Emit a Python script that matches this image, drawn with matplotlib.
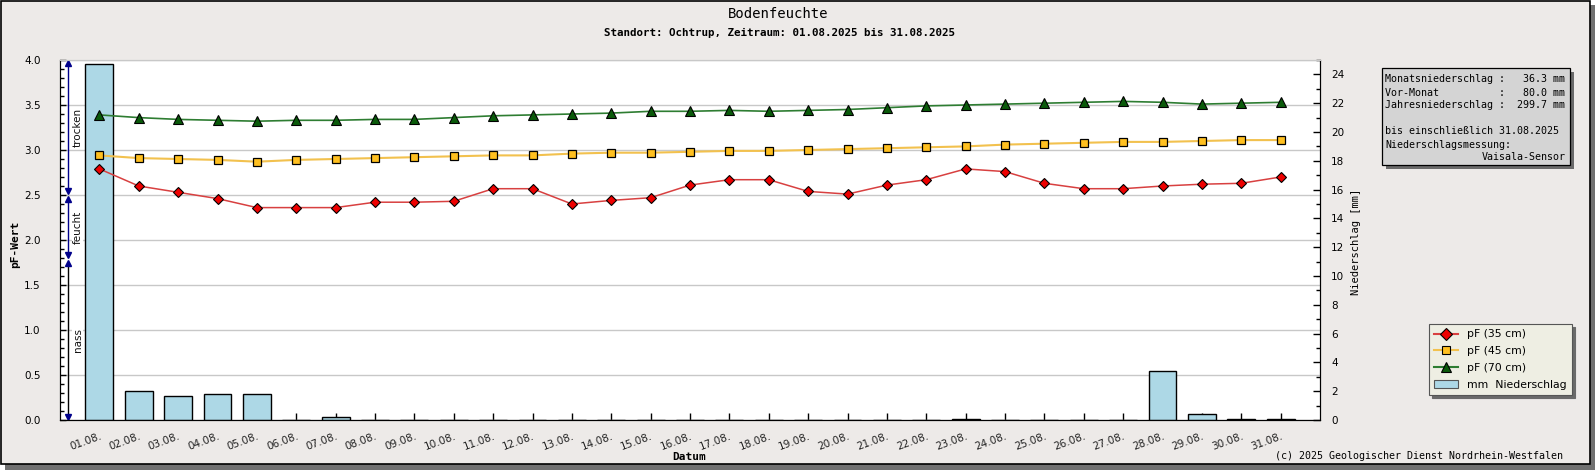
import numpy as np
import matplotlib
matplotlib.use("Agg")
import matplotlib.pyplot as plt
from matplotlib.patches import Rectangle
from matplotlib.ticker import MultipleLocator
from matplotlib.lines import Line2D

# Tage im August 2025
tage = list(range(1, 32))
tag_labels = ["%02d.08." % t for t in tage]

# pF-Werte je Tiefe
pf35 = [2.79, 2.60, 2.53, 2.46, 2.36, 2.36, 2.36, 2.42, 2.42, 2.43,
        2.57, 2.57, 2.40, 2.44, 2.47, 2.61, 2.67, 2.67, 2.54, 2.51,
        2.61, 2.67, 2.79, 2.76, 2.63, 2.57, 2.57, 2.60, 2.62, 2.63, 2.70]
pf45 = [2.94, 2.91, 2.90, 2.89, 2.87, 2.89, 2.90, 2.91, 2.92, 2.93,
        2.94, 2.94, 2.96, 2.97, 2.97, 2.98, 2.99, 2.99, 3.00, 3.01,
        3.02, 3.03, 3.04, 3.06, 3.07, 3.08, 3.09, 3.09, 3.10, 3.11, 3.11]
pf70 = [3.39, 3.36, 3.34, 3.33, 3.32, 3.33, 3.33, 3.34, 3.34, 3.36,
        3.38, 3.39, 3.40, 3.41, 3.43, 3.43, 3.44, 3.43, 3.44, 3.45,
        3.47, 3.49, 3.50, 3.51, 3.52, 3.53, 3.54, 3.53, 3.51, 3.52, 3.53]

# Niederschlag [mm]
regen = [24.7, 2.0, 1.7, 1.8, 1.8, 0.0, 0.2, 0.0, 0.0, 0.0,
         0.0, 0.0, 0.0, 0.0, 0.0, 0.0, 0.0, 0.0, 0.0, 0.0,
         0.0, 0.0, 0.1, 0.0, 0.0, 0.0, 0.0, 3.4, 0.4, 0.1, 0.1]

# Bereiche links (von, bis, Name)
zonen = [(2.54, 3.97, "trocken"), (1.83, 2.46, "feucht"), (0.03, 1.75, "nass")]

info_links = ["Monatsniederschlag :   36.3 mm",
              "Vor-Monat          :   80.0 mm",
              "Jahresniederschlag :  299.7 mm",
              "",
              "bis einschließlich 31.08.2025",
              "Niederschlagsmessung:"]
info_rechts = "Vaisala-Sensor"

W, H = 1595, 470
bg = '#EDEAE8'
mono = 'DejaVu Sans Mono'
sans = 'DejaVu Sans'

fig = plt.figure(figsize=(W / 100, H / 100), dpi=100, facecolor='white')

# Rahmen mit Schatten
fig.patches.append(Rectangle((5 / W, 0), 1 - 5 / W, 1 - 5 / H, transform=fig.transFigure,
                             facecolor='#707070', edgecolor='none', zorder=-20))
fig.patches.append(Rectangle((0.5 / W, 6 / H), 1589 / W, 1 - 6.5 / H, transform=fig.transFigure,
                             facecolor=bg, edgecolor='black', lw=1.2, zorder=-19))

ax = fig.add_axes([60 / W, 1 - 420 / H, 1260 / W, 360 / H])
ax.set_facecolor('white')
ax.set_xlim(0, 32)
ax.set_ylim(0, 4.0)
ax.yaxis.set_major_locator(MultipleLocator(0.5))
ax.yaxis.set_minor_locator(MultipleLocator(0.1))
ax.yaxis.set_major_formatter(matplotlib.ticker.FormatStrFormatter('%.1f'))
ax.grid(axis='y', color='#C8C8C8', lw=1.0)
ax.set_axisbelow(True)
ax.set_xticks(tage)
ax.set_xticklabels(tag_labels, rotation=20, ha='right', rotation_mode='anchor',
                   fontsize=7.5, family=sans, color='#222222')
ax.tick_params(axis='x', direction='in', length=5, pad=8, width=1)
ax.tick_params(axis='y', which='major', direction='in', length=4, labelsize=7.5, pad=14, width=1)
ax.tick_params(axis='y', which='minor', direction='in', length=3, width=1)
ax.spines['top'].set_color('#C8C8C8')

# Bereichspfeile links
for lo, hi, name in zonen:
    farbe = 'black' if name == 'nass' else '#00008B'
    ax.plot([0.2, 0.2], [lo, hi], color=farbe, lw=1.0, zorder=3)
    ax.plot([0.2], [hi], marker='^', ms=4.5, color='#00008B', zorder=4)
    ax.plot([0.2], [lo], marker='v', ms=4.5, color='#00008B', zorder=4)
    ax.text(0.45, (lo + hi) / 2, name, rotation=90, ha='center', va='center',
            fontsize=7.5, family=sans, color='#111111',
            bbox=dict(facecolor='white', edgecolor='none', pad=0.5))

ax2 = ax.twinx()
ax2.set_ylim(0, 25)
ax2.yaxis.set_major_locator(MultipleLocator(2))
ax2.yaxis.set_minor_locator(MultipleLocator(1))
ax2.tick_params(axis='y', which='major', direction='in', length=5, labelsize=7.5, pad=8, width=1)
ax2.tick_params(axis='y', which='minor', direction='in', length=3, width=1)
ax2.spines['top'].set_color('#C8C8C8')

ax2.bar(tage, regen, width=0.71, color='#ADD8E6', edgecolor='black', lw=1.0, zorder=2)

tr = ax.transData
ax2.plot(tage, pf70, color='#2E7D32', lw=1.2, marker='^', ms=6.5, mfc='#0A5A0A', mec='black',
         mew=0.8, transform=tr, zorder=5)
ax2.plot(tage, pf45, color='#F2C14E', lw=1.5, marker='s', ms=5.5, mfc='#FFC020', mec='black',
         mew=0.9, transform=tr, zorder=5)
ax2.plot(tage, pf35, color='#D84040', lw=1.1, marker='D', ms=5.5, mfc='#EE0000', mec='black',
         mew=0.8, transform=tr, zorder=5)
ax2.set_xlim(0, 32)

# Legende
handles = [
    Line2D([], [], color='#D84040', marker='D', ms=6, mfc='#EE0000', mec='black', mew=0.8),
    Line2D([], [], color='#F2C14E', marker='s', ms=6, mfc='#FFC020', mec='black', mew=0.8),
    Line2D([], [], color='#2E7D32', marker='^', ms=6.5, mfc='#0A5A0A', mec='black', mew=0.8),
    Rectangle((0, 0), 1, 1, facecolor='#ADD8E6', edgecolor='#555555', lw=0.8),
]
labels = ["pF (35 cm)", "pF (45 cm)", "pF (70 cm)", "mm  Niederschlag"]
leg = fig.legend(handles, labels, loc='upper left', bbox_to_anchor=(1429 / W, 1 - 324 / H),
                 bbox_transform=fig.transFigure, borderaxespad=0, fancybox=False,
                 shadow={'color': '#6A6A6A', 'alpha': 1.0}, frameon=True,
                 prop={'family': sans, 'size': 7.8}, handlelength=2.2, labelspacing=0.62,
                 borderpad=0.5, handletextpad=0.8)
leg.get_frame().set_facecolor('#EEEEE3')
leg.get_frame().set_edgecolor('#555555')
leg.get_frame().set_linewidth(0.8)

# Infokasten
bx0, by0, bw, bh = 1382, 68, 188, 97
fig.patches.append(Rectangle(((bx0 + 4) / W, 1 - (by0 + bh + 4) / H), bw / W, bh / H,
                             transform=fig.transFigure, facecolor='#6A6A6A', edgecolor='none', zorder=1))
fig.patches.append(Rectangle((bx0 / W, 1 - (by0 + bh) / H), bw / W, bh / H,
                             transform=fig.transFigure, facecolor='#D4D4D4', edgecolor='black',
                             lw=0.9, zorder=2))
for i, zeile in enumerate(info_links):
    fig.text((bx0 + 3) / W, 1 - (79.5 + 13 * i) / H, zeile, family=mono, fontsize=7.2,
             ha='left', va='center', zorder=3)
fig.text((bx0 + bw - 4) / W, 1 - (79.5 + 13 * 6) / H, info_rechts, family=mono, fontsize=7.2,
         ha='right', va='center', zorder=3)

# Titel und Beschriftungen
fig.text(778 / W, 1 - 14 / H, "Bodenfeuchte", family=mono, fontsize=10, ha='center', va='center')
fig.text(779 / W, 1 - 33 / H, "Standort: Ochtrup, Zeitraum: 01.08.2025 bis 31.08.2025",
         family=mono, fontsize=7.8, weight='bold', ha='center', va='center')
fig.text(689 / W, 1 - 457 / H, "Datum", family=mono, fontsize=8, weight='bold',
         ha='center', va='center')
fig.text(15 / W, 1 - 244 / H, "pF-Wert", family=mono, fontsize=8, weight='bold',
         rotation=90, ha='center', va='center')
fig.text(1356 / W, 1 - 242 / H, "Niederschlag [mm]", family=mono, fontsize=7.5,
         rotation=90, ha='center', va='center')
fig.text(1563 / W, 1 - 456 / H, "(c) 2025 Geologischer Dienst Nordrhein-Westfalen",
         family=mono, fontsize=7.2, ha='right', va='center')

fig.savefig('out.png', dpi=100, facecolor=fig.get_facecolor())
